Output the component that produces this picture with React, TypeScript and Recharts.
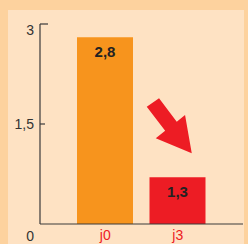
import React from "react";
import { BarChart, Bar, XAxis, YAxis, Cell, LabelList, ReferenceDot } from "recharts";

const categories = ["j0", "j3"];
const barHeights = [2.8, 0.7];
const barLabels = ["2,8", "1,3"];
const barColors = ["#F7941D", "#ED1C24"];
const yTicks = [0, 1.5, 3];
const yTickLabels = ["0", "1,5", "3"];
const arrowTipCategory = "j3";
const arrowTipValue = 1.06;

const data = categories.map((c, i) => ({ name: c, value: barHeights[i], label: barLabels[i] }));

const FONT = "'Liberation Sans', Arial, sans-serif";
const AXIS = "#3a3a3a";
const RED = "#ED1C24";

const YTick = (props: any) => {
  const { x, y, payload } = props;
  const v = payload.value;
  const i = yTicks.indexOf(v);
  const dy = v === 0 ? 17 : v === 3 ? 11 : 5;
  return (
    <g>
      {v !== 0 && (
        <line x1={x + 6} x2={x + 6 + (v === 3 ? 8 : 5)} y1={y} y2={y} stroke={AXIS} strokeWidth={1.2} />
      )}
      <text x={x} y={y + dy} textAnchor="end" fontSize={14} fill="#333" fontFamily={FONT}>
        {yTickLabels[i]}
      </text>
    </g>
  );
};

const XTick = (props: any) => {
  const { x, y, payload } = props;
  return (
    <text x={x} y={y + 16} textAnchor="middle" fontSize={14} fill={RED} fontFamily={FONT}>
      {payload.value}
    </text>
  );
};

const BarLabel = (props: any) => {
  const { x, y, width, index } = props;
  return (
    <text x={x + width / 2} y={y + 20} textAnchor="middle" fontSize={15} fontWeight="bold" fill="#222" fontFamily={FONT}>
      {barLabels[index]}
    </text>
  );
};

const Arrow = (props: any) => {
  const { cx, cy } = props;
  const pts: [number, number][] = [
    [-45, -46.6],
    [-32.7, -55],
    [-15, -31.7],
    [-6.7, -38.3],
    [0, 0],
    [-36, -15],
    [-26.6, -22.5],
  ];
  const d = pts.map((p, k) => `${k === 0 ? "M" : "L"}${cx + 14 + p[0]},${cy + p[1]}`).join(" ") + " Z";
  return <path d={d} fill={RED} />;
};

export default function App() {
  return (
    <div style={{ position: "absolute", left: 0, top: 0, width: 248, height: 244, background: "#FDD29E", overflow: "hidden" }}>
      <div style={{ position: "absolute", left: 8, top: 10, width: 236, height: 234, background: "#FEE2C3" }} />
      <div style={{ position: "absolute", left: 0, top: 0 }}>
        <BarChart width={248} height={244} data={data} margin={{ top: 24, right: 5, bottom: 0, left: 0 }}>
          <XAxis
            dataKey="name"
            padding={{ left: 29, right: 29 }}
            axisLine={{ stroke: AXIS, strokeWidth: 1.2 }}
            tickLine={false}
            tickSize={0}
            tickMargin={0}
            height={20}
            tick={<XTick />}
            interval={0}
          />
          <YAxis
            domain={[0, 3]}
            ticks={yTicks}
            width={40}
            axisLine={{ stroke: AXIS, strokeWidth: 1.2 }}
            tickLine={false}
            tickSize={0}
            tickMargin={6}
            tick={<YTick />}
            interval={0}
          />
          <Bar dataKey="value" barSize={56} isAnimationActive={false}>
            {data.map((d, i) => (
              <Cell key={d.name} fill={barColors[i]} />
            ))}
            <LabelList dataKey="label" content={<BarLabel />} />
          </Bar>
          <ReferenceDot x={arrowTipCategory} y={arrowTipValue} ifOverflow="visible" shape={<Arrow />} />
        </BarChart>
      </div>
    </div>
  );
}
